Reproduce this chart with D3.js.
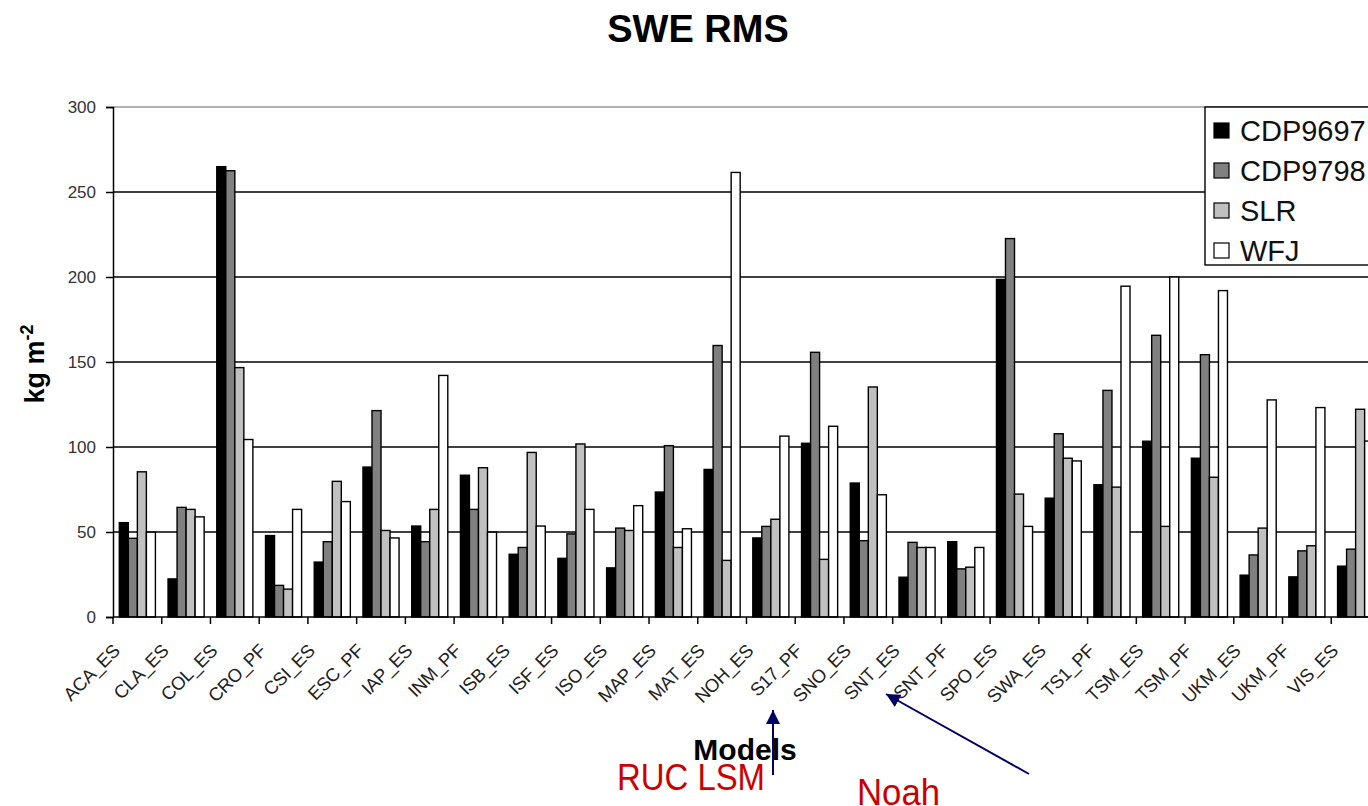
<!DOCTYPE html>
<html>
<head>
<meta charset="utf-8">
<script src="https://cdn.jsdelivr.net/npm/d3@7"></script>
<style>
  body { margin: 0; background: #fff; }
  svg { display: block; }
</style>
</head>
<body>
<script>
// models on the x axis
var categories = ["ACA_ES","CLA_ES","COL_ES","CRO_PF","CSI_ES","ESC_PF","IAP_ES","INM_PF","ISB_ES","ISF_ES","ISO_ES","MAP_ES","MAT_ES","NOH_ES","S17_PF","SNO_ES","SNT_ES","SNT_PF","SPO_ES","SWA_ES","TS1_PF","TSM_ES","TSM_PF","UKM_ES","UKM_PF","VIS_ES"];
var series = ["CDP9697","CDP9798","SLR","WFJ"];
var seriesColors = ["#000000","#808080","#c0c0c0","#ffffff"];

// SWE RMS (kg m-2) per site
var cdp9697 = [55.5,22.4,264.9,47.9,32.3,88.2,53.5,83.4,36.9,34.5,28.9,73.5,86.8,46.5,102.2,78.8,23.4,44.3,198.6,69.9,77.8,103.4,93.4,24.6,23.6,29.9];
var cdp9798 = [46.3,64.5,262.5,18.6,44.3,121.4,44.3,63.3,40.9,48.9,52.3,100.8,159.7,53.3,155.7,44.9,43.9,28.3,222.6,107.8,133.3,165.7,154.3,36.5,38.9,39.9];
var slr     = [85.4,63.3,146.7,16.4,79.8,50.9,63.3,87.8,96.8,101.8,50.9,40.9,33.3,57.5,33.9,135.3,40.9,29.3,72.3,93.4,76.4,53.3,82.2,52.3,41.9,122.2];
var wfj     = [49.9,58.9,104.4,63.3,67.9,46.5,142.1,49.9,53.5,63.3,65.5,51.9,261.5,106.4,112.2,71.9,40.9,40.9,53.3,91.8,194.6,200.0,192.0,127.7,123.2,103.5];
var yTicks = [0,50,100,150,200,250,300];

var seriesValues = [cdp9697, cdp9798, slr, wfj];

var width = 1368, height = 806;
var plotLeft = 113, plotTop = 107, plotBottom = 617;
var catStep = 48.73;

var svg = d3.select("body").append("svg")
    .attr("width", width)
    .attr("height", height)
    .style("font-family", "'Liberation Sans', Arial, sans-serif");

var x0 = d3.scaleBand()
    .domain(categories)
    .range([plotLeft, plotLeft + categories.length * catStep])
    .paddingInner(0)
    .paddingOuter(0);

var x1 = d3.scaleBand()
    .domain(series)
    .range([0, x0.bandwidth()])
    .paddingOuter(0.7);

var y = d3.scaleLinear()
    .domain([0, 300])
    .range([plotBottom, plotTop]);

var plotRight = x0.range()[1];

// title
svg.append("text")
    .attr("x", 698)
    .attr("y", 42)
    .attr("text-anchor", "middle")
    .attr("font-weight", "bold")
    .attr("font-size", 38)
    .text("SWE RMS");

// top border of plot area
svg.append("line")
    .attr("x1", plotLeft).attr("x2", plotRight)
    .attr("y1", y(300)).attr("y2", y(300))
    .attr("stroke", "#999")
    .attr("stroke-width", 1.3);

// gridlines
svg.append("g").selectAll("line")
    .data(yTicks.filter(function(d){ return d > 0 && d < 300; }))
  .enter().append("line")
    .attr("x1", plotLeft).attr("x2", plotRight)
    .attr("y1", function(d){ return y(d); })
    .attr("y2", function(d){ return y(d); })
    .attr("stroke", "#000")
    .attr("stroke-width", 1.5);

// bars
var groups = svg.append("g").selectAll("g")
    .data(categories)
  .enter().append("g")
    .attr("transform", function(d){ return "translate(" + x0(d) + ",0)"; });

groups.selectAll("rect")
    .data(function(d, i){
      return series.map(function(s, j){ return {s: s, v: seriesValues[j][i], c: seriesColors[j]}; });
    })
  .enter().append("rect")
    .attr("x", function(d){ return x1(d.s); })
    .attr("width", x1.bandwidth())
    .attr("y", function(d){ return y(d.v); })
    .attr("height", function(d){ return y(0) - y(d.v); })
    .attr("fill", function(d){ return d.c; })
    .attr("stroke", "#000")
    .attr("stroke-width", 1.4);

// y axis
var yAxis = svg.append("g")
    .attr("transform", "translate(" + plotLeft + ",0)")
    .call(d3.axisLeft(y).tickValues(yTicks).tickSize(7).tickPadding(10));
yAxis.select(".domain").attr("stroke", "#000").attr("stroke-width", 1.5);
yAxis.selectAll(".tick line").attr("stroke", "#000").attr("stroke-width", 1.5);
yAxis.selectAll(".tick text")
    .attr("font-size", 17)
    .attr("fill", "#333")
    .style("font-family", "'Liberation Sans', Arial, sans-serif");

// x axis line and ticks at category boundaries
svg.append("line")
    .attr("x1", plotLeft).attr("x2", plotRight)
    .attr("y1", plotBottom).attr("y2", plotBottom)
    .attr("stroke", "#000")
    .attr("stroke-width", 1.5);

svg.append("g").selectAll("line")
    .data(categories.concat(["_end"]))
  .enter().append("line")
    .attr("x1", function(d){ return d == "_end" ? plotRight : x0(d); })
    .attr("x2", function(d){ return d == "_end" ? plotRight : x0(d); })
    .attr("y1", plotBottom).attr("y2", plotBottom + 7)
    .attr("stroke", "#000")
    .attr("stroke-width", 1.5);

// category labels, rotated
svg.append("g").selectAll("text")
    .data(categories)
  .enter().append("text")
    .attr("transform", function(d){ return "translate(" + (x0(d) + 8) + "," + 652 + ") rotate(-45)"; })
    .attr("text-anchor", "end")
    .attr("font-size", 18.5)
    .attr("letter-spacing", -0.4)
    .attr("fill", "#222")
    .text(function(d){ return d; });

// axis titles
svg.append("text")
    .attr("x", 745)
    .attr("y", 760)
    .attr("text-anchor", "middle")
    .attr("font-weight", "bold")
    .attr("font-size", 30)
    .text("Models");

var yt = svg.append("text")
    .attr("transform", "translate(44,364) rotate(-90)")
    .attr("text-anchor", "middle")
    .attr("font-weight", "bold")
    .attr("font-size", 27);
yt.append("tspan").text("kg m");
yt.append("tspan").attr("dy", -11).attr("font-size", 18).text("-2");

// legend (runs off the right edge like the original)
var legend = svg.append("g");
legend.append("rect")
    .attr("x", 1205).attr("y", 107)
    .attr("width", 220).attr("height", 158)
    .attr("fill", "#fff")
    .attr("stroke", "#000")
    .attr("stroke-width", 1.4);

var items = legend.selectAll("g.item")
    .data(series)
  .enter().append("g")
    .attr("class", "item")
    .attr("transform", function(d, i){ return "translate(1214," + (131 + i * 40) + ")"; });

items.append("rect")
    .attr("x", 0).attr("y", -8)
    .attr("width", 15).attr("height", 15)
    .attr("fill", function(d, i){ return seriesColors[i]; })
    .attr("stroke", "#000")
    .attr("stroke-width", 1.2);

items.append("text")
    .attr("x", 26)
    .attr("y", 10)
    .attr("font-size", 29)
    .attr("fill", "#111")
    .text(function(d){ return d; });

// annotations
var defs = svg.append("defs");
defs.append("marker")
    .attr("id", "head")
    .attr("markerUnits", "userSpaceOnUse")
    .attr("viewBox", "0 0 14 14")
    .attr("refX", 14).attr("refY", 7)
    .attr("markerWidth", 14).attr("markerHeight", 14)
    .attr("orient", "auto")
  .append("path")
    .attr("d", "M0,0 L14,7 L0,14 Z")
    .attr("fill", "#000066");

svg.append("line")
    .attr("x1", 773).attr("y1", 775)
    .attr("x2", 773).attr("y2", 710)
    .attr("stroke", "#000066")
    .attr("stroke-width", 2)
    .attr("marker-end", "url(#head)");

svg.append("line")
    .attr("x1", 1029).attr("y1", 774)
    .attr("x2", 886).attr("y2", 694)
    .attr("stroke", "#000066")
    .attr("stroke-width", 2)
    .attr("marker-end", "url(#head)");

svg.append("text")
    .attr("x", 617).attr("y", 790)
    .attr("font-size", 37)
    .attr("fill", "#cc0000")
    .attr("textLength", 148)
    .attr("lengthAdjust", "spacingAndGlyphs")
    .text("RUC LSM");

svg.append("text")
    .attr("x", 857).attr("y", 805)
    .attr("font-size", 37)
    .attr("fill", "#cc0000")
    .attr("textLength", 83)
    .attr("lengthAdjust", "spacingAndGlyphs")
    .text("Noah");
</script>
</body>
</html>
